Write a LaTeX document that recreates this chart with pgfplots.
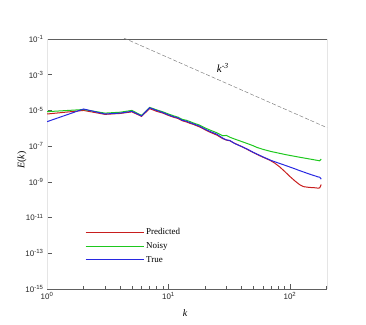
\documentclass[border=0pt]{standalone}
\usepackage{fontspec}
\setmainfont{Liberation Serif}
\setsansfont{Liberation Sans}
\usepackage{pgfplots}
\pgfplotsset{compat=1.18}
\definecolor{cpred}{RGB}{200,30,30}
\definecolor{cnoisy}{RGB}{30,200,30}
\definecolor{ctrue}{RGB}{40,40,225}
\pgfplotsset{
  longline/.style={legend image code/.code={\draw[##1] (0bp,0bp) -- (58bp,0bp);}},
}
\begin{document}
\begin{tikzpicture}[x=1bp,y=1bp]
\path[use as bounding box] (0,0) rectangle (366,325);
\begin{axis}[at={(47bp,36bp)}, anchor=south west, scale only axis,
  width=280bp, height=250bp,
  xmode=log, ymode=log, xmin=1, xmax=202, ymin=1e-15, ymax=1e-1,
  xtick={1,10,100},
  xticklabels={10\textsuperscript{0},10\textsuperscript{1},10\textsuperscript{2}},
  minor xtick={2,3,4,5,6,7,8,9,20,30,40,50,60,70,80,90,200},
  ytick={1e-15,1e-13,1e-11,1e-9,1e-7,1e-5,1e-3,1e-1},
  yticklabels={10\textsuperscript{-15},10\textsuperscript{-13},10\textsuperscript{-11},10\textsuperscript{-9},10\textsuperscript{-7},10\textsuperscript{-5},10\textsuperscript{-3},10\textsuperscript{-1}},
  minor ytick={},
  tick pos=left, tick align=inside, major tick length=5bp, minor tick length=3bp,
  tick style={gray!70!black, line width=0.5bp},
  separate axis lines,
  every outer x axis line/.append style={draw=gray!75!black, line width=0.7bp},
  every outer y axis line/.append style={draw=gray!20, line width=0.7bp},
  ticklabel style={font=\sffamily\fontsize{8}{9}\selectfont, text=black!85},
  xlabel={\textit{k}}, ylabel={\textit{E}(\textit{k})},
  label style={font=\fontsize{10}{12}\selectfont},
  xlabel style={at={(axis description cs:0.493,-0.096)}, anchor=center},
  ylabel style={at={(axis description cs:-0.089,0.516)}, anchor=center},
  legend style={at={(0.125,0.26)}, anchor=north west, draw=none, fill=none,
    font=\fontsize{9}{10}\selectfont, row sep=2.5bp},
  legend cell align=left,
  clip=true,
]
\addplot[color=cpred, line width=1bp, longline] coordinates {
(1,6.310e-6) (2,1.0e-5) (3,6.026e-6) (4,6.761e-6) (5,8.318e-6) (6,4.677e-6) (7,1.259e-5) (8,8.913e-6) (9,7.079e-6) (10,5.248e-6)
(11,4.169e-6) (12,3.548e-6) (13,2.630e-6) (14,2.291e-6) (15,1.905e-6) (16,1.660e-6) (18,1.202e-6) (20,8.318e-7) (22,6.026e-7) (25,4.169e-7)
(28,2.630e-7) (30,2.188e-7) (32,1.995e-7) (35,1.445e-7) (40,9.550e-8) (45,6.310e-8) (50,4.365e-8) (55,3.162e-8) (60,2.399e-8) (68,1.660e-8)
(75,1.122e-8) (82,7.079e-9) (90,3.981e-9) (100,1.995e-9) (110,1.122e-9) (121,6.761e-10) (130,5.370e-10) (140,5.012e-10) (150,4.786e-10) (160,4.677e-10)
(170,4.467e-10) (176,4.571e-10) (181,7.079e-10)
};
\addlegendentry{Predicted}
\addplot[color=cnoisy, line width=1bp, longline] coordinates {
(1,8.511e-6) (2,1.122e-5) (3,7.079e-6) (4,7.943e-6) (5,1.0e-5) (6,5.248e-6) (7,1.479e-5) (8,1.072e-5) (9,8.318e-6) (10,6.310e-6)
(11,5.012e-6) (12,4.169e-6) (13,3.162e-6) (14,2.818e-6) (15,2.399e-6) (16,1.995e-6) (18,1.514e-6) (20,1.047e-6) (22,7.943e-7) (25,5.623e-7)
(28,3.802e-7) (30,3.981e-7) (32,3.162e-7) (35,2.512e-7) (40,1.820e-7) (44,1.445e-7) (50,1.047e-7) (53,8.710e-8) (60,6.607e-8) (70,5.012e-8)
(82,3.981e-8) (90,3.467e-8) (100,3.020e-8) (120,2.399e-8) (140,1.995e-8) (160,1.698e-8) (176,1.514e-8) (181,1.905e-8)
};
\addlegendentry{Noisy}
\addplot[color=ctrue, line width=1bp, longline] coordinates {
(1,2.344e-6) (2,1.202e-5) (3,6.310e-6) (4,7.079e-6) (5,8.913e-6) (6,4.898e-6) (7,1.413e-5) (8,1.0e-5) (9,7.586e-6) (10,5.623e-6)
(11,4.467e-6) (12,3.802e-6) (13,2.818e-6) (14,2.512e-6) (15,2.089e-6) (16,1.778e-6) (18,1.318e-6) (20,8.913e-7) (22,6.607e-7) (25,4.677e-7)
(28,2.818e-7) (30,2.239e-7) (32,2.089e-7) (35,1.413e-7) (40,9.550e-8) (45,6.607e-8) (50,4.467e-8) (55,3.311e-8) (60,2.512e-8) (70,1.585e-8)
(80,1.148e-8) (90,8.710e-9) (100,6.761e-9) (110,5.370e-9) (120,4.266e-9) (130,3.548e-9) (140,2.951e-9) (150,2.512e-9) (160,2.188e-9) (170,1.905e-9)
(176,1.820e-9) (181,1.413e-9)
};
\addlegendentry{True}
\addplot[color=gray, line width=0.5bp, dash pattern=on 4bp off 2bp, forget plot] coordinates {(1,8.93) (202,1.083e-6)};
\node[font=\itshape\fontsize{11}{13}\selectfont] at (axis cs:28,2.4e-3) {k\textsuperscript{-3}};
\end{axis}
\end{tikzpicture}
\end{document}
